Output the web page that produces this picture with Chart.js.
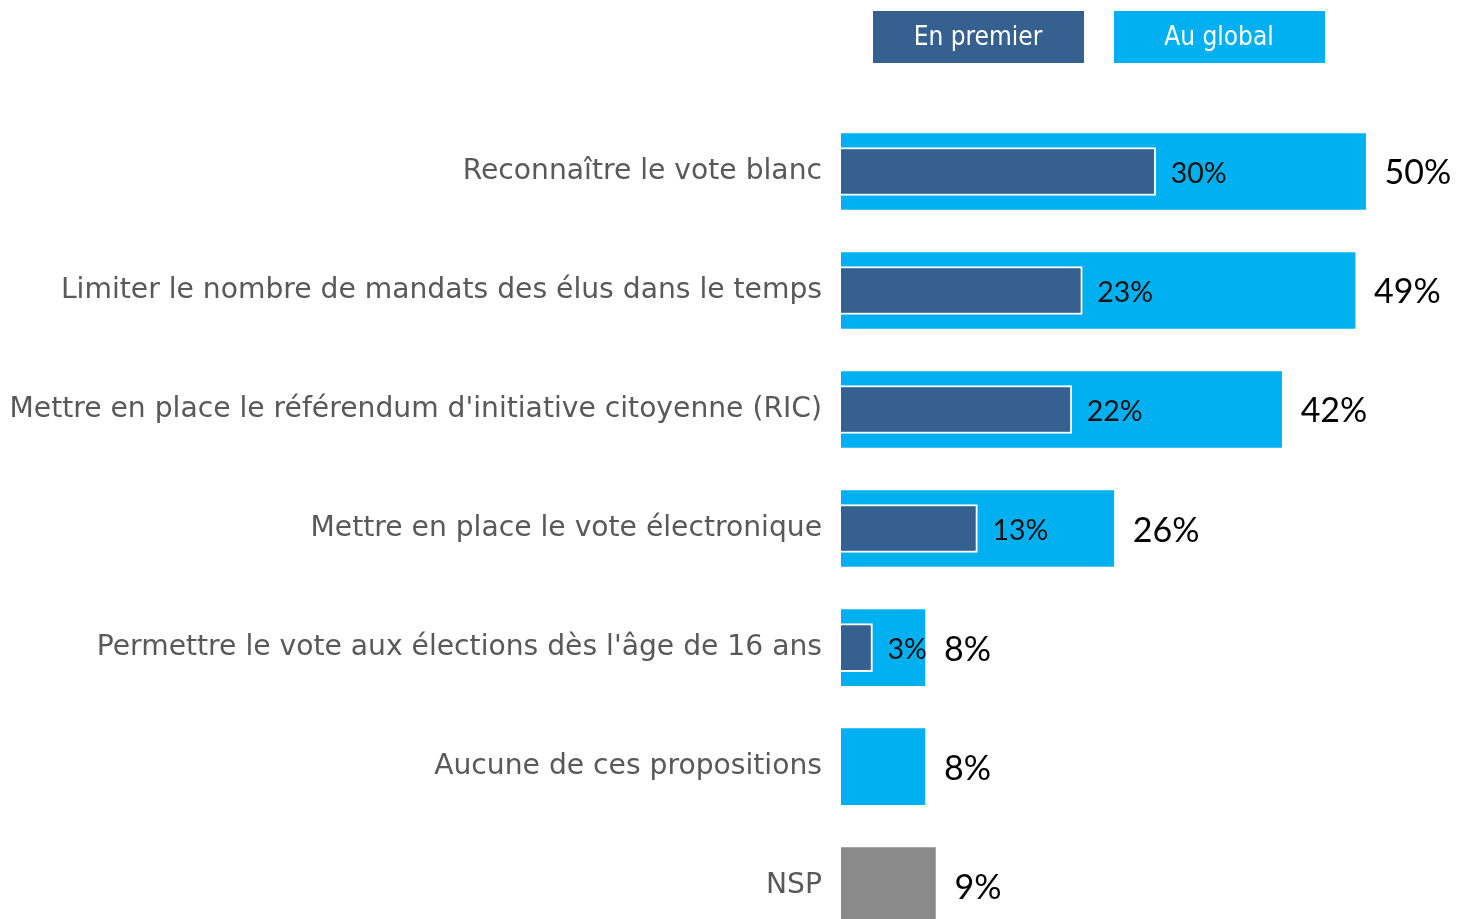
<!DOCTYPE html>
<html>
<head>
<meta charset="utf-8">
<script src="https://cdn.jsdelivr.net/npm/chart.js@4"></script>
<style>
  html, body { margin: 0; padding: 0; background: #fff; overflow: hidden; }
  canvas { display: block; }
</style>
</head>
<body>
<canvas id="mychart" width="1460" height="981"></canvas>
<script>
const categories = [
  "Reconnaître le vote blanc",
  "Limiter le nombre de mandats des élus dans le temps",
  "Mettre en place le référendum d'initiative citoyenne (RIC)",
  "Mettre en place le vote électronique",
  "Permettre le vote aux élections dès l'âge de 16 ans",
  "Aucune de ces propositions",
  "NSP"
];
const enPremier = [30, 23, 22, 13, 3, null, null];
const auGlobal = [50, 49, 42, 26, 8, 8, 9];

const bleuFonce = '#36608F';
const bleuClair = '#00B0F0';
const gris = '#8A8A8A';

// couleur de chaque barre "au global" (NSP en gris)
const couleursGlobal = categories.map(c => c === 'NSP' ? gris : bleuClair);

const valeurs = {
  id: 'valeurs',
  afterDatasetsDraw(chart) {
    const ctx = chart.ctx;
    ctx.save();
    ctx.textBaseline = 'middle';
    ctx.textAlign = 'left';
    // pourcentages "au global", a droite de la grande barre
    chart.getDatasetMeta(1).data.forEach((bar, i) => {
      ctx.font = '34px Lato, "Open Sans", sans-serif';
      ctx.fillStyle = '#000';
      ctx.fillText(auGlobal[i] + '%', bar.x + 19, bar.y + 2);
    });
    // pourcentages "en premier", a droite de la petite barre
    chart.getDatasetMeta(0).data.forEach((bar, i) => {
      if (enPremier[i] == null) return;
      ctx.font = '28.5px Lato, "Open Sans", sans-serif';
      ctx.fillStyle = '#111';
      ctx.fillText(enPremier[i] + '%', bar.x + 15, bar.y + 2);
    });
    ctx.restore();
  }
};

// legende en pavés colorés avec le texte dedans
const legendePaves = {
  id: 'legendePaves',
  afterDraw(chart) {
    const ctx = chart.ctx;
    const ds = chart.data.datasets;
    const xs = [873, 1114];
    ctx.save();
    ctx.font = '26px "DejaVu Sans Condensed", "DejaVu Sans", sans-serif';
    ctx.textAlign = 'center';
    ctx.textBaseline = 'middle';
    ds.forEach((d, i) => {
      ctx.fillStyle = d.legendColor;
      ctx.fillRect(xs[i], 11, 211, 52);
      ctx.fillStyle = '#fff';
      ctx.fillText(d.label, xs[i] + 105, 38);
    });
    ctx.restore();
  }
};

const canvas = document.getElementById('mychart');
new Chart(canvas, {
  type: 'bar',
  data: {
    labels: categories,
    datasets: [
      {
        label: 'En premier',
        data: enPremier,
        backgroundColor: bleuFonce,
        legendColor: bleuFonce,
        borderColor: '#fff',
        borderWidth: 2,
        barThickness: 48
      },
      {
        label: 'Au global',
        data: auGlobal,
        backgroundColor: couleursGlobal,
        legendColor: bleuClair,
        borderWidth: 0,
        barThickness: 76
      }
    ]
  },
  options: {
    indexAxis: 'y',
    responsive: false,
    animation: false,
    layout: { padding: { top: 112, right: 0, bottom: 0, left: 0 } },
    datasets: { bar: { grouped: false } },
    plugins: {
      legend: { display: false },
      tooltip: { enabled: false }
    },
    scales: {
      x: {
        display: false,
        min: 0,
        max: 59
      },
      y: {
        afterFit(scale) { scale.width = 841; },
        grid: { display: false, drawTicks: false },
        border: { display: false },
        ticks: {
          padding: 19,
          color: '#595959',
          font: { family: '"DejaVu Sans", sans-serif', size: 28.2 }
        }
      }
    }
  },
  plugins: [valeurs, legendePaves]
});
</script>
</body>
</html>
